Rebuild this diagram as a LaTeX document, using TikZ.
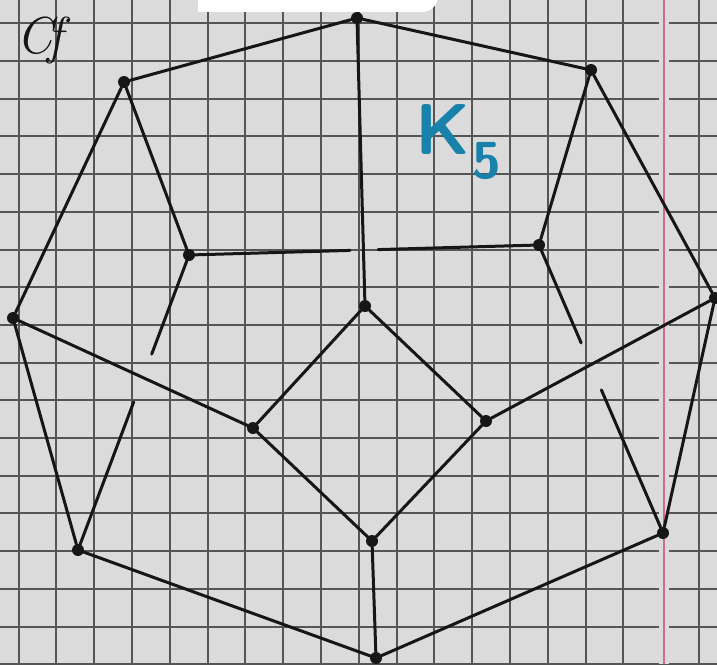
\documentclass[tikz,border=0pt]{standalone}
\usepackage{fontspec}
\usetikzlibrary{calc}
\definecolor{paper}{RGB}{219,219,219}
\definecolor{gridc}{RGB}{85,85,85}
\definecolor{margin}{RGB}{205,110,130}
\definecolor{inkblue}{RGB}{25,130,170}
\definecolor{ink}{RGB}{22,22,22}
\begin{document}
\begin{tikzpicture}[x=1pt,y=-1pt,
  vtx/.style={circle,fill=ink,inner sep=0pt,minimum size=12pt},
  edge/.style={draw=ink,line width=3pt,line cap=round},
  gridline/.style={draw=gridc,line width=2pt}]
\useasboundingbox (0,0) rectangle (717,664);
\fill[paper] (0,0) rectangle (717,664);
% grid
\foreach \k in {0,...,18}{\draw[gridline] ({18.6+37.8*\k},0) -- ({18.6+37.8*\k},664);}
\foreach \k in {0,...,17}{\draw[gridline] (0,{23.3+37.7*\k}) -- (717,{23.3+37.7*\k});}
\fill[paper] (659,0) rectangle (669,664);
\draw[margin,line width=2.4pt] (664,0) -- (664,664);
% white patch at top
\fill[white] (198,-20) rectangle (422,12);
\fill[white] (422,-4) circle (16);
% handwritten mark
\node[ink,font=\fontsize{52}{52}\selectfont\itshape] (mark) at (40,40) {C\kern-5pt\textit{f}};
% label
\node[inkblue,font=\fontsize{72}{72}\selectfont\sffamily\bfseries] (klabel) at (458,142) {K\kern2pt\raisebox{-0.65\height}{\fontsize{52}{52}\selectfont 5}};
% vertices
\node[vtx] (T)  at (357,18) {};
\node[vtx] (UL) at (124,82) {};
\node[vtx] (UR) at (591,70) {};
\node[vtx] (L)  at (13,318) {};
\node[vtx] (R)  at (715,298) {};
\node[vtx] (LL) at (78,550) {};
\node[vtx] (LR) at (663,533) {};
\node[vtx] (B)  at (376,658) {};
\node[vtx] (IL) at (189,255) {};
\node[vtx] (IR) at (539,245) {};
\node[vtx] (CT) at (365,306) {};
\node[vtx] (DL) at (253,428) {};
\node[vtx] (DR) at (486,421) {};
\node[vtx] (DB) at (372,541) {};
% outer cycle
\draw[edge] (T) -- (UL);
\draw[edge] (T) -- (UR);
\draw[edge] (UL) -- (L);
\draw[edge] (UR) -- (R);
\draw[edge] (L) -- (LL);
\draw[edge] (R) -- (LR);
\draw[edge] (LL) -- (B);
\draw[edge] (LR) -- (B);
% spokes
\draw[edge] (T) -- (CT);
\draw[edge] (DB) -- (B);
\draw[edge] (UL) -- (IL);
\draw[edge] (UR) -- (IR);
\draw[edge] (L) -- (DL);
\draw[edge] (R) -- (DR);
% diamond
\draw[edge] (CT) -- (DL);
\draw[edge] (CT) -- (DR);
\draw[edge] (DL) -- (DB);
\draw[edge] (DR) -- (DB);
% broken edges (crossings)
\coordinate (a1) at ($(IL)!0.46!(IR)$);
\coordinate (a2) at ($(IL)!0.54!(IR)$);
\draw[edge] (IL) -- (a1);
\draw[edge] (a2) -- (IR);
\coordinate (b1) at ($(IL)!0.336!(LL)$);
\coordinate (b2) at ($(IL)!0.498!(LL)$);
\draw[edge] (IL) -- (b1);
\draw[edge] (b2) -- (LL);
\coordinate (c1) at ($(IR)!0.34!(LR)$);
\coordinate (c2) at ($(IR)!0.503!(LR)$);
\draw[edge] (IR) -- (c1);
\draw[edge] (c2) -- (LR);
\end{tikzpicture}
\end{document}
